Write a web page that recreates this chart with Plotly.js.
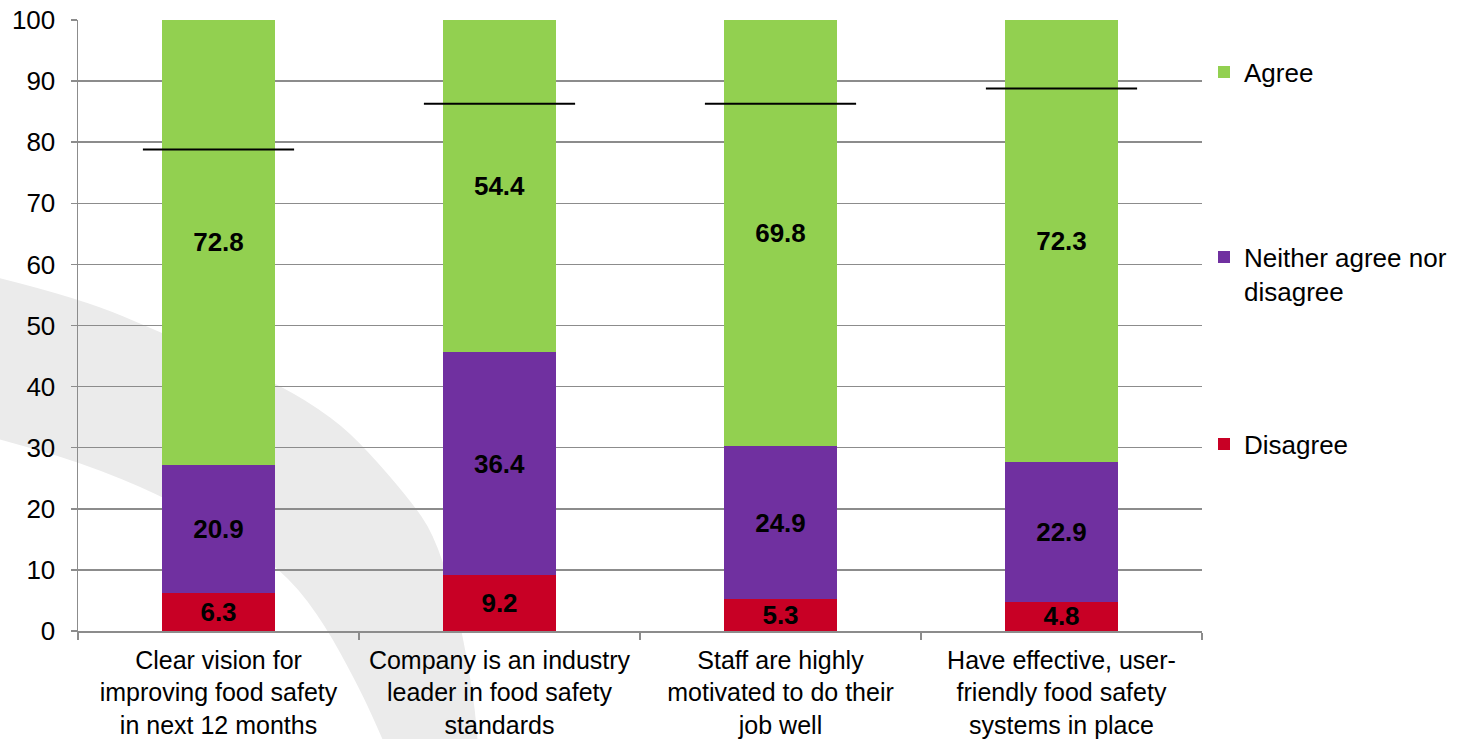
<!DOCTYPE html>
<html>
<head>
<meta charset="utf-8">
<script src="https://cdn.plot.ly/plotly-3.0.1.min.js"></script>
<style>
  html, body { margin: 0; padding: 0; background: #ffffff; }
  #chart { width: 1465px; height: 739px; }
</style>
</head>
<body>
<div id="chart"></div>
<script>
// Survey statements (x axis)
const categories = [
  "Clear vision for<br>improving food safety<br>in next 12 months",
  "Company is an industry<br>leader in food safety<br>standards",
  "Staff are highly<br>motivated to do their<br>job well",
  "Have effective, user-<br>friendly food safety<br>systems in place"
];

// Percentages of respondents per answer
const disagree = [6.3, 9.2, 5.3, 4.8];
const neither  = [20.9, 36.4, 24.9, 22.9];
const agree    = [72.8, 54.4, 69.8, 72.3];

// Comparison level per statement (black markers)
const benchmark = [78.8, 86.3, 86.3, 88.8];

const seriesNames = ["Disagree", "Neither agree nor<br>disagree", "Agree"];
const yTicks = [0, 10, 20, 30, 40, 50, 60, 70, 80, 90, 100];

// ---- layout geometry (pixels) ----
const W = 1465, H = 739;
const M = { l: 78, r: 263, t: 20, b: 108 };
const plotW = W - M.l - M.r, plotH = H - M.t - M.b;
const px = x => (x - M.l) / plotW;
const py = y => (H - M.b - y) / plotH;

const FONT = "Arial, 'Liberation Sans', sans-serif";
const GRID = "#8c8c8c";

function labelText(vals) { return vals.map(v => v.toFixed(1)); }

function barTrace(vals, name, color, legendId) {
  return {
    type: "bar",
    x: categories,
    y: vals,
    name: name,
    legend: legendId,
    marker: { color: color, line: { width: 0 } },
    text: labelText(vals),
    textposition: "inside",
    insidetextanchor: "middle",
    textangle: 0,
    constraintext: "none",
    textfont: { family: FONT, size: 26, color: "#000000", weight: "bold" },
    hoverinfo: "name+y"
  };
}

const traces = [
  barTrace(disagree, seriesNames[0], "#C80025", "legend3"),
  barTrace(neither,  seriesNames[1], "#7030A0", "legend2"),
  barTrace(agree,    seriesNames[2], "#92D050", "legend"),
  {
    type: "scatter",
    mode: "markers",
    x: categories,
    y: benchmark,
    showlegend: false,
    hoverinfo: "y",
    marker: {
      symbol: "line-ew",
      size: 108,
      color: "#000000",
      line: { color: "#000000", width: 2 }
    }
  }
];

// Soft grey decorative swoosh behind the chart
const upperEdge = [[-5,277],[80,298],[167,335],[277,383],[333,418],[367,450],
                   [410,500],[433,533],[452,590],[463,637],[474,700],[478,745]];
const lowerEdge = [[-5,438],[80,462],[165,497],[240,540],[290,578],[325,625],
                   [355,680],[372,715],[385,745]];

function smoothPath(pts) {
  let d = "";
  for (let i = 1; i < pts.length - 1; i++) {
    const c = pts[i], n = pts[i + 1];
    const mx = (c[0] + n[0]) / 2, my = (c[1] + n[1]) / 2;
    d += ` Q ${px(c[0])},${py(c[1])} ${px(mx)},${py(my)}`;
  }
  const last = pts[pts.length - 1];
  d += ` L ${px(last[0])},${py(last[1])}`;
  return d;
}
const lowerRev = lowerEdge.slice().reverse();
const swoosh = `M ${px(upperEdge[0][0])},${py(upperEdge[0][1])}` +
  smoothPath(upperEdge) +
  ` L ${px(lowerRev[0][0])},${py(lowerRev[0][1])}` +
  smoothPath(lowerRev) + " Z";

function legendAt(yPix) {
  return {
    x: px(1204), xanchor: "left",
    y: py(yPix), yanchor: "middle",
    valign: "top",
    bgcolor: "rgba(0,0,0,0)",
    borderwidth: 0,
    font: { family: FONT, size: 26, color: "#000000" },
    itemclick: false, itemdoubleclick: false
  };
}

const layout = {
  width: W, height: H,
  margin: M,
  paper_bgcolor: "#ffffff",
  plot_bgcolor: "rgba(0,0,0,0)",
  barmode: "stack",
  bargap: 0.6,
  showlegend: true,
  legend: legendAt(72),
  legend2: legendAt(274),
  legend3: legendAt(444),
  font: { family: FONT, size: 26, color: "#000000" },
  xaxis: {
    type: "category",
    showline: true, linecolor: GRID, linewidth: 1.5,
    ticks: "outside", tickson: "boundaries", ticklen: 7, tickcolor: GRID, tickwidth: 1.5,
    showgrid: false,
    ticklabelstandoff: 6,
    tickfont: { family: FONT, size: 25, color: "#000000" },
    fixedrange: true
  },
  yaxis: {
    range: [0, 100],
    tickvals: yTicks,
    ticktext: yTicks.map(String),
    showline: true, linecolor: GRID, linewidth: 1.5,
    ticks: "outside", ticklen: 6, tickcolor: GRID, tickwidth: 1.5,
    showgrid: true, gridcolor: GRID, gridwidth: 1.5,
    zeroline: false,
    ticklabelstandoff: 10,
    tickfont: { family: FONT, size: 26, color: "#000000" },
    fixedrange: true
  },
  shapes: [{
    type: "path", xref: "paper", yref: "paper",
    path: swoosh,
    fillcolor: "#ebebeb", line: { width: 0 },
    layer: "below"
  }]
};

Plotly.newPlot("chart", traces, layout, { displayModeBar: false, staticPlot: true });
</script>
</body>
</html>
